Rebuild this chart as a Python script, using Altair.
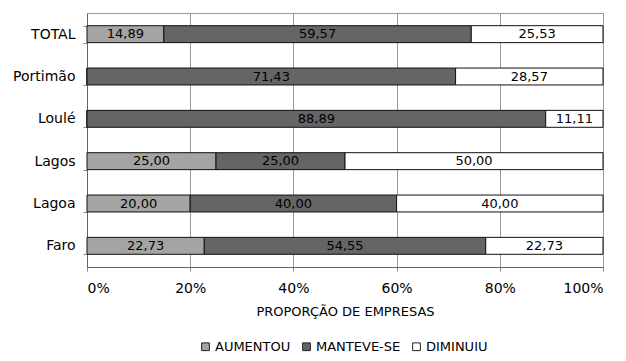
import altair as alt
import pandas as pd

categories = ["TOTAL", "Portimão", "Loulé", "Lagos", "Lagoa", "Faro"]
series = ["AUMENTOU", "MANTEVE-SE", "DIMINUIU"]
aumentou = [14.89, 0.0, 0.0, 25.00, 20.00, 22.73]
manteve = [59.57, 71.43, 88.89, 25.00, 40.00, 54.55]
diminuiu = [25.53, 28.57, 11.11, 50.00, 40.00, 22.73]
colors = ["#a4a4a4", "#656565", "#ffffff"]

rows = []
for i, c in enumerate(categories):
    for j, (s, vals) in enumerate(zip(series, [aumentou, manteve, diminuiu])):
        v = vals[i]
        rows.append({"cat": c, "serie": s, "ord": j, "v": v,
                     "lab": ("%.2f" % v).replace(".", ",") if v > 0 else ""})
df = pd.DataFrame(rows)

FONT = "DejaVu Sans"

base = alt.Chart(df).transform_stack(
    stack="v", groupby=["cat"], sort=[alt.SortField("ord")], as_=["x0", "x1"], offset="normalize"
).transform_calculate(xm="(datum.x0 + datum.x1) / 2")

y = alt.Y("cat:N", sort=categories, title=None,
          axis=alt.Axis(labelFont=FONT, labelFontSize=14, labelColor="#000", labelPadding=8,
                        tickBand="extent", tickColor="#888", domainColor="#666", tickSize=4))

bars = base.mark_bar(stroke="#111", strokeWidth=1).encode(
    x=alt.X("x0:Q", scale=alt.Scale(domain=[0, 1]), title="PROPORÇÃO DE EMPRESAS",
            axis=alt.Axis(format="%", values=[0, 0.2, 0.4, 0.6, 0.8, 1.0], labelFont=FONT,
                          labelFontSize=14, labelColor="#000", titleFont=FONT, titleFontSize=13,
                          titleFontWeight="normal", titleColor="#000", titlePadding=10,
                          labelPadding=10, gridColor="#999", domainColor="#666", tickColor="#888",
                          tickSize=4)),
    x2="x1:Q",
    y=y,
    color=alt.Color("serie:N", scale=alt.Scale(domain=series, range=colors),
                    legend=alt.Legend(orient="none", legendX=112, legendY=327, direction="horizontal",
                                      title=None, symbolType="square", symbolSize=60,
                                      symbolStrokeColor="#222", symbolStrokeWidth=1,
                                      labelFont=FONT, labelFontSize=13, labelColor="#000",
                                      columnPadding=9, labelOffset=3)),
    order=alt.Order("ord:Q"),
)

text = base.mark_text(font=FONT, fontSize=13, color="#000").encode(
    x="xm:Q", y=alt.Y("cat:N", sort=categories), text="lab:N"
)

chart = alt.layer(bars, text).properties(
    width=516, height=254,
    autosize=alt.AutoSizeParams(type="none"),
    padding={"left": 79, "top": 5, "right": 15, "bottom": 90},
).configure_view(stroke="#999").configure_scale(bandPaddingInner=0.6, bandPaddingOuter=0.3)

chart.save("out.html", embed_options={"renderer": "svg", "actions": False})
